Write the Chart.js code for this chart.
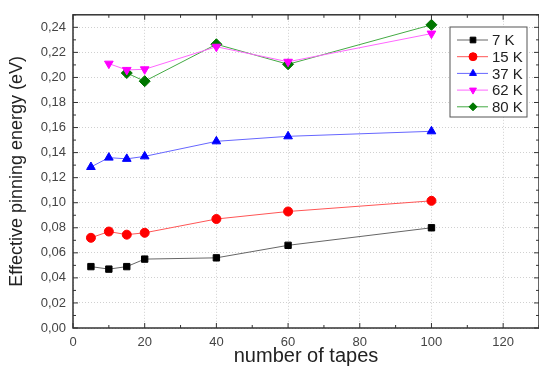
<!DOCTYPE html>
<html>
<head>
<meta charset="utf-8">
<script src="https://cdn.jsdelivr.net/npm/chart.js@4"></script>
<style>
    html, body { margin: 0; padding: 0; background: #fff; }
    #wrap { width: 539px; height: 372px; }
</style>
</head>
<body>
<div id="wrap"><canvas id="chart" width="539" height="372"></canvas></div>
<script>
const tapes = [5, 10, 15, 20, 40, 60, 100];
const tapes62 = [10, 15, 20, 40, 60, 100];
const tapes80 = [15, 20, 40, 60, 100];

const e7 = [0.049, 0.047, 0.049, 0.055, 0.056, 0.066, 0.080];
const e15 = [0.072, 0.077, 0.0745, 0.076, 0.087, 0.093, 0.1015];
const e37 = [0.1285, 0.136, 0.135, 0.137, 0.149, 0.153, 0.157];
const e62 = [0.211, 0.206, 0.2065, 0.2245, 0.2125, 0.235];
const e80 = [0.2035, 0.197, 0.2265, 0.2105, 0.242];

const labels = ['7 K', '15 K', '37 K', '62 K', '80 K'];
const xTicks = [0, 20, 40, 60, 80, 100, 120];
const yTicks = [0, 0.02, 0.04, 0.06, 0.08, 0.10, 0.12, 0.14, 0.16, 0.18, 0.20, 0.22, 0.24];

function toPoints(xs, ys) {
    return xs.map((x, i) => ({ x: x, y: ys[i] }));
}

const datasets = [
    { label: labels[0], data: toPoints(tapes, e7), borderColor: '#666', backgroundColor: '#000', pointStyle: 'rect', pointRadius: 4.5 },
    { label: labels[1], data: toPoints(tapes, e15), borderColor: '#f55', backgroundColor: '#f00', pointStyle: 'circle', pointRadius: 4.5 },
    { label: labels[2], data: toPoints(tapes, e37), borderColor: '#66f', backgroundColor: '#00f', pointStyle: 'triangle', pointRadius: 5 },
    { label: labels[3], data: toPoints(tapes62, e62), borderColor: '#f6f', backgroundColor: '#f0f', pointStyle: 'triangle', pointRotation: 180, pointRadius: 5 },
    { label: labels[4], data: toPoints(tapes80, e80), borderColor: '#4a4', backgroundColor: '#070', pointStyle: 'rectRot', pointRadius: 5.5 }
];
datasets.forEach(d => {
    d.borderWidth = 1;
    d.pointBorderColor = d.backgroundColor;
    d.pointBorderWidth = 1;
    d.showLine = true;
});

// frame with inward ticks + legend box
const framePlugin = {
    id: 'frame',
    afterDraw(chart) {
        const ctx = chart.ctx;
        const a = chart.chartArea;
        const xs = chart.scales.x, ys = chart.scales.y;
        ctx.save();
        ctx.strokeStyle = '#333';
        ctx.lineWidth = 1.5;
        ctx.strokeRect(a.left, a.top, a.right - a.left, a.bottom - a.top);
        ctx.lineWidth = 1;
        for (let v = 0; v <= 130; v += 10) {
            const p = xs.getPixelForValue(v);
            const len = v % 20 === 0 ? 5 : 3;
            ctx.beginPath();
            ctx.moveTo(p, a.bottom); ctx.lineTo(p, a.bottom - len);
            ctx.moveTo(p, a.top); ctx.lineTo(p, a.top + len);
            ctx.stroke();
        }
        for (let i = 0; i <= 25; i++) {
            const p = ys.getPixelForValue(i / 100);
            const len = i % 2 === 0 ? 5 : 3;
            ctx.beginPath();
            ctx.moveTo(a.left, p); ctx.lineTo(a.left + len, p);
            ctx.moveTo(a.right, p); ctx.lineTo(a.right - len, p);
            ctx.stroke();
        }

        // legend
        const bx = 450, by = 27, bw = 77, bh = 90;
        ctx.fillStyle = '#fff';
        ctx.fillRect(bx, by, bw, bh);
        ctx.strokeStyle = '#555';
        ctx.strokeRect(bx, by, bw, bh);
        ctx.font = '15px "Liberation Sans", Arial, sans-serif';
        ctx.textBaseline = 'middle';
        chart.data.datasets.forEach((d, i) => {
            const y = by + 13 + i * 16.7;
            ctx.strokeStyle = d.borderColor;
            ctx.lineWidth = 1;
            ctx.beginPath();
            ctx.moveTo(bx + 7, y); ctx.lineTo(bx + 38, y);
            ctx.stroke();
            ctx.fillStyle = d.backgroundColor;
            ctx.strokeStyle = d.backgroundColor;
            Chart.helpers.drawPoint(ctx, { pointStyle: d.pointStyle, radius: 4, rotation: d.pointRotation || 0, borderWidth: 1 }, bx + 23, y);
            ctx.fillStyle = '#222';
            ctx.fillText(d.label, bx + 42, y + 1);
        });
        ctx.restore();
    }
};

const tickFont = { family: '"Liberation Sans", Arial, sans-serif', size: 13 };
const gridStyle = { color: '#d0d0d0', lineWidth: 1, drawTicks: false };

new Chart(document.getElementById('chart'), {
    type: 'scatter',
    data: { datasets: datasets },
    options: {
        responsive: false,
        animation: false,
        layout: { autoPadding: false, padding: { top: 13, right: 0, left: 2, bottom: 0 } },
        plugins: { legend: { display: false }, tooltip: { enabled: false } },
        scales: {
            x: {
                type: 'linear', min: 0, max: 130,
                afterBuildTicks(s) { s.ticks = xTicks.map(v => ({ value: v })); },
                ticks: { color: '#444', font: tickFont, padding: 7, callback: v => String(v) },
                grid: gridStyle,
                border: { display: false, dash: [1, 2] },
                title: { display: true, text: 'number of tapes', color: '#222',
                    font: { family: '"Liberation Sans", Arial, sans-serif', size: 20 }, padding: { top: 1 } },
                afterFit(s) { s.height = 44; }
            },
            y: {
                min: 0, max: 0.25,
                afterBuildTicks(s) { s.ticks = yTicks.map(v => ({ value: v })); },
                ticks: { color: '#444', font: tickFont, padding: 7,
                    callback: v => v.toFixed(2).replace('.', ',') },
                grid: gridStyle,
                border: { display: false, dash: [1, 2] },
                title: { display: true, text: 'Effective pinning energy (eV)', color: '#222',
                    font: { family: '"Liberation Sans", Arial, sans-serif', size: 18 }, padding: { bottom: 2 } },
                afterFit(s) { s.width = 71; }
            }
        }
    },
    plugins: [framePlugin]
});
</script>
</body>
</html>
